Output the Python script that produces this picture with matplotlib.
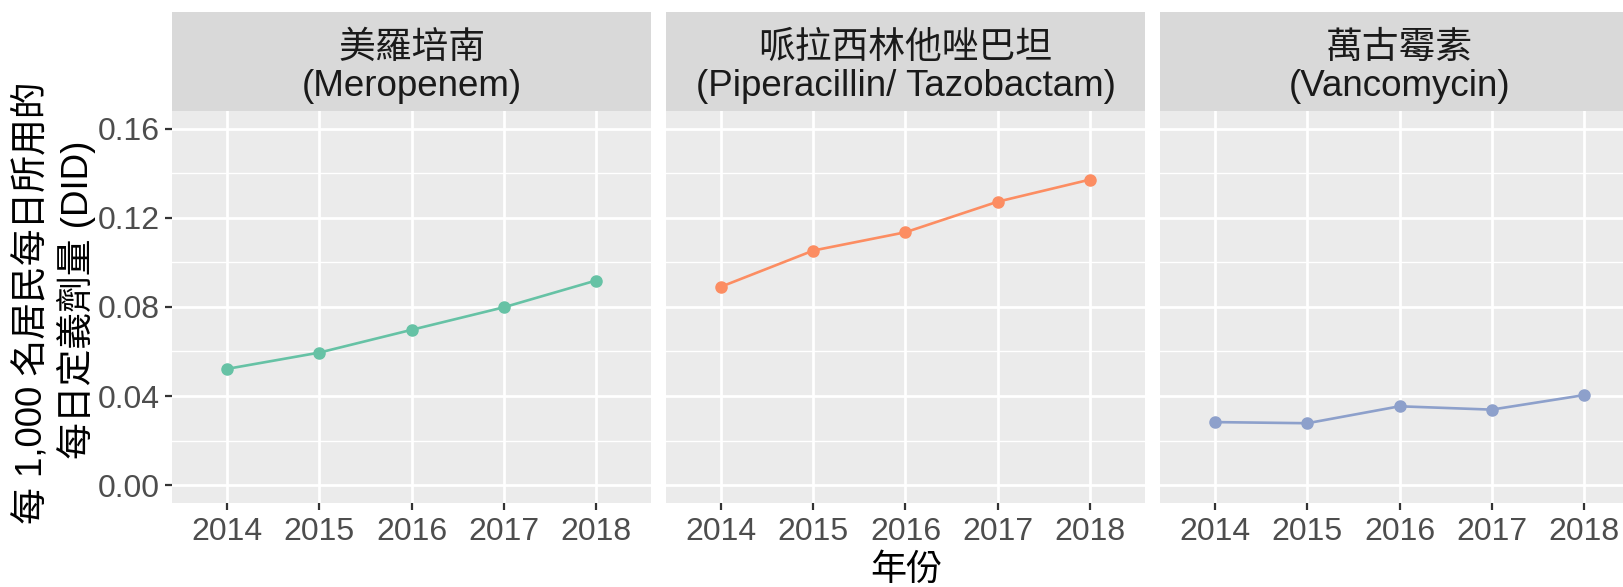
import matplotlib
matplotlib.use("Agg")
import matplotlib.pyplot as plt
import numpy as np

plt.rcParams['font.family'] = ['Liberation Sans', 'Noto Sans CJK TC', 'DejaVu Sans']

years = [2014, 2015, 2016, 2017, 2018]
drug_cn = ["美羅培南", "哌拉西林他唑巴坦", "萬古霉素"]
drug_en = ["(Meropenem)", "(Piperacillin/ Tazobactam)", "(Vancomycin)"]
meropenem = [0.0522, 0.0595, 0.0697, 0.0798, 0.0918]
piperacillin = [0.0891, 0.1053, 0.1135, 0.1272, 0.1371]
vancomycin = [0.0283, 0.0278, 0.0354, 0.0339, 0.0404]
series = [meropenem, piperacillin, vancomycin]
colors = ["#66C2A5", "#FC8D62", "#8DA0CB"]
y_ticks = [0.00, 0.04, 0.08, 0.12, 0.16]
y_minor = [0.02, 0.06, 0.10, 0.14]
y_label_lines = ["每 1,000 名居民每日所用的", "每日定義劑量 (DID)"]
x_label = "年份"

W, H = 1623, 587
fig = plt.figure(figsize=(W / 100, H / 100), dpi=100)

def fx(px):
    return px / W

def fy(py):
    return 1 - py / H

panel_w = 479
panel_left = [172, 666, 1160]
panel_top, panel_bot = 110.8, 503
strip_top = 12.4

for i in range(3):
    l = panel_left[i]
    ax = fig.add_axes([fx(l), fy(panel_bot), panel_w / W, (panel_bot - panel_top) / H])
    ax.set_facecolor("#EBEBEB")
    for s in ax.spines.values():
        s.set_visible(False)
    pos = np.arange(len(years))
    ax.set_xlim(-0.6, len(years) - 1 + 0.6)
    ax.set_ylim(-0.008, 0.168)
    ax.set_xticks(pos)
    ax.set_xticklabels([str(y) for y in years])
    ax.set_yticks(y_ticks)
    ax.set_yticks(y_minor, minor=True)
    ax.set_yticklabels([f"{v:.2f}" for v in y_ticks])
    ax.grid(True, which="major", color="white", linewidth=2.0)
    ax.grid(True, which="minor", axis="y", color="white", linewidth=1.0)
    ax.set_axisbelow(True)
    ax.tick_params(axis="both", which="major", length=5, width=1.6, color="#333333",
                   labelsize=23, labelcolor="#4D4D4D")
    ax.tick_params(axis="x", pad=5)
    ax.tick_params(axis="y", pad=4)
    ax.tick_params(axis="y", which="minor", length=0)
    if i > 0:
        ax.tick_params(axis="y", which="both", left=False, labelleft=False)
    ax.plot(pos, series[i], color=colors[i], linewidth=1.9, marker="o",
            markersize=8, zorder=3, clip_on=False)

    # strip
    sax = fig.add_axes([fx(l), fy(panel_top), panel_w / W, (panel_top - strip_top) / H])
    sax.set_facecolor("#D9D9D9")
    sax.set_xticks([])
    sax.set_yticks([])
    for s in sax.spines.values():
        s.set_visible(False)
    cx = l + panel_w / 2
    fig.text(fx(cx), fy(48), drug_cn[i], ha="center", va="center",
             fontsize=26.5, color="#1A1A1A")
    fig.text(fx(cx), fy(86), drug_en[i], ha="center", va="center",
             fontsize=26.5, color="#1A1A1A")

fig.text(fx(32), fy(303), y_label_lines[0], rotation=90, ha="center", va="center",
         fontsize=26.5, color="black")
fig.text(fx(76), fy(300), y_label_lines[1], rotation=90, ha="center", va="center",
         fontsize=26.5, color="black")
fig.text(fx(906), fy(570), x_label, ha="center", va="center",
         fontsize=26, color="black")

fig.savefig("out.png", dpi=100)
